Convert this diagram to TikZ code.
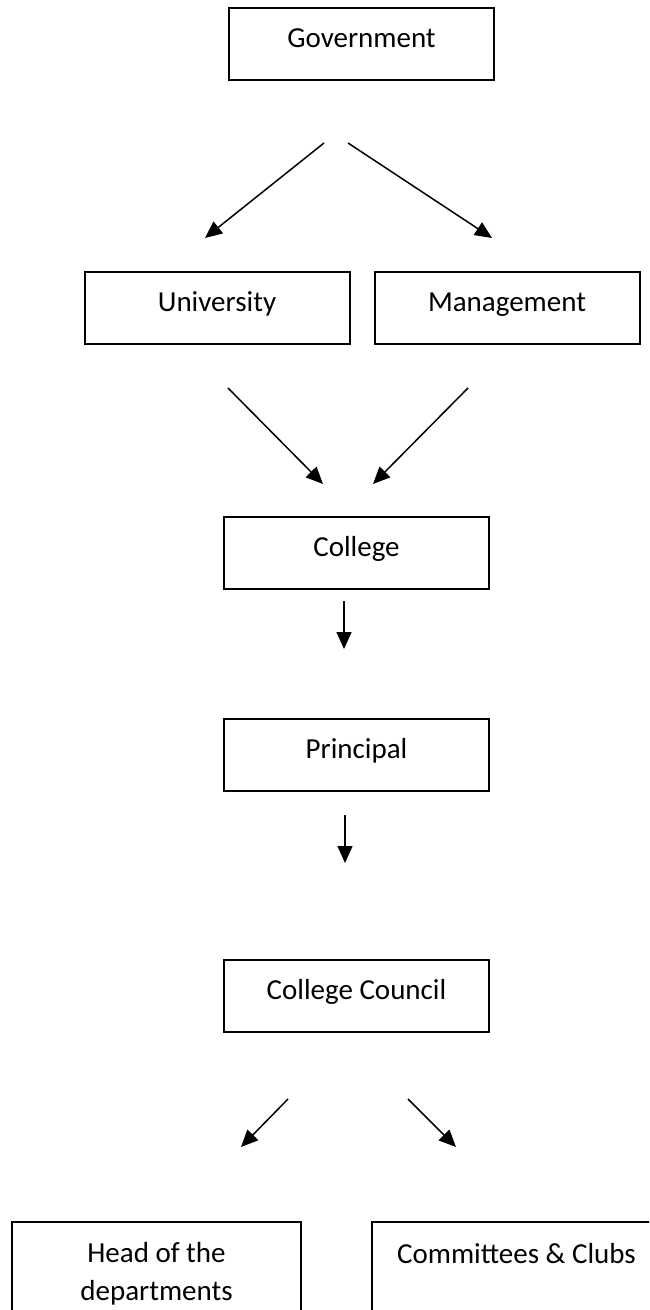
\documentclass[tikz,border=0pt]{standalone}
\usepackage{fontspec}
\setmainfont{Carlito}
\usetikzlibrary{arrows.meta}

\begin{document}
\begin{tikzpicture}[x=0.5pt, y=-0.5pt,
  font=\fontsize{14.5pt}{19pt}\selectfont,
  box/.style={draw, line width=1pt, minimum width=132.5pt, minimum height=36pt, inner sep=0pt, text height=10.9pt, text depth=7.5pt},
  lowbox/.style={draw, line width=1pt, minimum width=144.5pt, anchor=north, align=center, inner ysep=10pt},
  arr/.style={-{Triangle[length=8.5pt, width=7.5pt]}, line width=0.75pt}]

\path [use as bounding box, clip] (0,0) rectangle (649,1310);

\node [box] (gov) at (361.5,44) {Government};
\node [box] (uni) at (217,308) {University};
\node [box] (mgmt) at (507,308) {Management};
\node [box] (coll) at (356.5,553) {College};
\node [box] (prin) at (356.5,755) {Principal};
\node [box] (council) at (356.5,996) {College Council};
\node [lowbox] (hod) at (156.5,1221) {Head of the\\departments};
\node [lowbox, text height=10.5pt, text depth=40pt] (clubs) at (516.5,1221) {Committees \& Clubs};

\coordinate (p1) at (324,143);
\coordinate (p2) at (205,238);
\coordinate (p3) at (348,143);
\coordinate (p4) at (492,238);
\draw [arr] (p1) -- (p2);
\draw [arr] (p3) -- (p4);

\coordinate (p5) at (228,388);
\coordinate (p6) at (323,484);
\coordinate (p7) at (468,388);
\coordinate (p8) at (373,484);
\draw [arr] (p5) -- (p6);
\draw [arr] (p7) -- (p8);

\coordinate (p9) at (344,601);
\coordinate (p10) at (344,649);
\draw [arr] (p9) -- (p10);

\coordinate (p11) at (345,815);
\coordinate (p12) at (345,863);
\draw [arr] (p11) -- (p12);

\coordinate (p13) at (288,1099);
\coordinate (p14) at (241,1147);
\coordinate (p15) at (408,1099);
\coordinate (p16) at (456,1147);
\draw [arr] (p13) -- (p14);
\draw [arr] (p15) -- (p16);
\end{tikzpicture}
\end{document}
